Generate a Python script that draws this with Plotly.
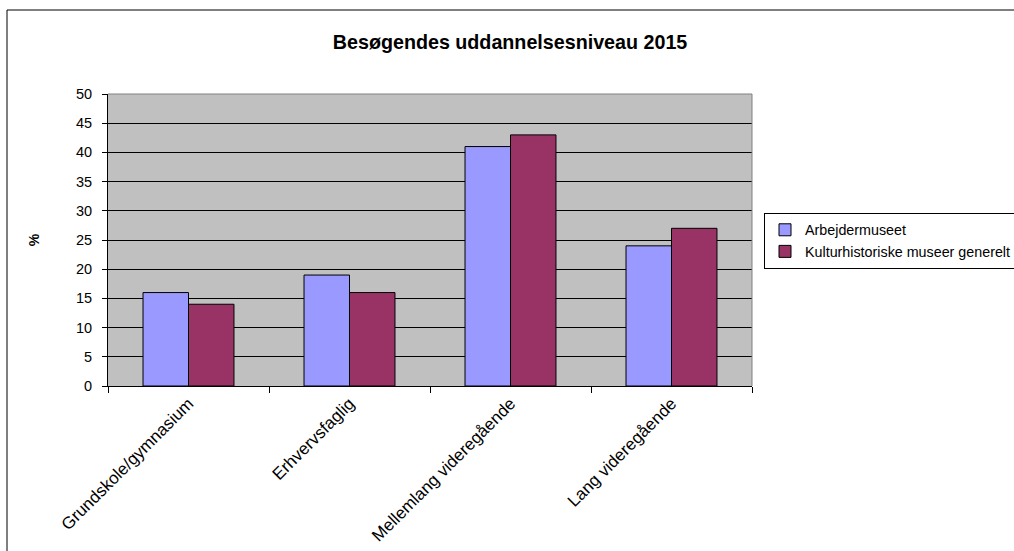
import plotly.graph_objects as go

categories = ["Grundskole/gymnasium", "Erhvervsfaglig", "Mellemlang videregående", "Lang videregående"]
arbejdermuseet = [16, 19, 41, 24]
kulturhistoriske = [14, 16, 43, 27]
series_names = ["Arbejdermuseet", "Kulturhistoriske museer generelt"]

W, H = 1014, 551
L, R, T, B = 108, 752, 94, 386

FONT = "Arial, Liberation Sans, sans-serif"

fig = go.Figure()
fig.add_trace(go.Bar(x=categories, y=arbejdermuseet, name=series_names[0],
                     marker=dict(color="#9999FF", line=dict(color="#000000", width=1))))
fig.add_trace(go.Bar(x=categories, y=kulturhistoriske, name=series_names[1],
                     marker=dict(color="#993366", line=dict(color="#000000", width=1))))

pw, ph = R - L, B - T
def px(x): return (x - L) / pw
def py(y): return (B - y) / ph

fig.update_layout(
    width=W, height=H,
    margin=dict(l=L, r=W - R, t=T, b=H - B, pad=0, autoexpand=False),
    paper_bgcolor="white",
    plot_bgcolor="#C0C0C0",
    barmode="group",
    bargap=0.435,
    bargroupgap=0,
    font=dict(family=FONT, size=14, color="black"),
    title=dict(text="<b>Besøgendes uddannelsesniveau 2015</b>", x=0.503, xref="container",
               y=1 - 42 / H, yanchor="middle", font=dict(size=19.7, family=FONT)),
    legend=dict(x=px(764), y=py(213), xanchor="left", yanchor="top",
                bgcolor="white", bordercolor="black", borderwidth=1,
                font=dict(size=14.3, family=FONT), itemwidth=30,
                tracegroupgap=0),
    showlegend=True,
    xaxis=dict(showline=True, linecolor="black", linewidth=1, mirror=False,
               ticks="outside", ticklen=6, tickcolor="black", tickson="boundaries",
               tickangle=-45, showgrid=False, tickfont=dict(size=17), automargin=False),
    yaxis=dict(range=[0, 50], dtick=5, showline=True, linecolor="black", linewidth=1,
               ticks="outside", ticklen=5, tickcolor="black", ticklabelstandoff=7,
               showgrid=True, gridcolor="black", gridwidth=1, zeroline=False,
               tickfont=dict(size=14.5), automargin=False,
               title=dict(text="<b>%</b>", font=dict(size=14), standoff=33)),
    shapes=[
        dict(type="line", xref="paper", yref="paper", x0=1, x1=1, y0=0, y1=1,
             line=dict(color="#808080", width=1)),
        dict(type="line", xref="paper", yref="paper", x0=0, x1=1, y0=1, y1=1,
             line=dict(color="#808080", width=1)),
        dict(type="rect", xref="paper", yref="paper", x0=px(7), x1=px(1040), y0=py(10), y1=py(580),
             line=dict(color="black", width=1), layer="below"),
    ],
)
fig.write_html("out.html", config={"displayModeBar": False},
               post_script="document.body.style.margin='0';document.body.style.overflow='hidden';")
